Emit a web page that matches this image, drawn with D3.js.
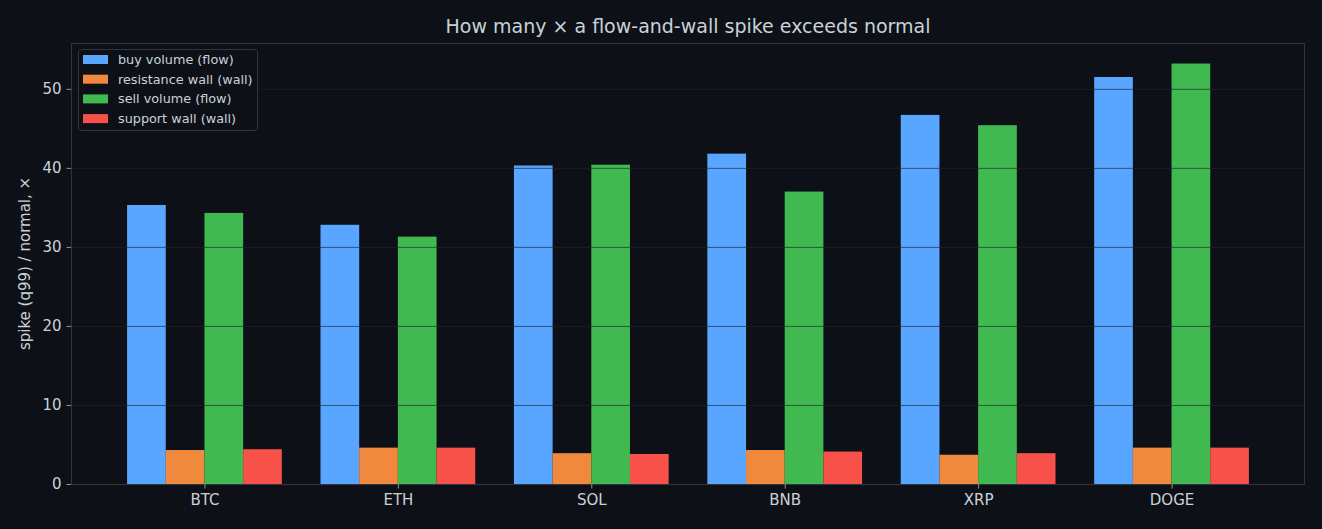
<!DOCTYPE html>
<html>
<head>
<meta charset="utf-8">
<script src="https://cdn.jsdelivr.net/npm/d3@7"></script>
<style>
    body { margin: 0; background: #0d1117; }
    svg { display: block; font-family: "DejaVu Sans", sans-serif; }
</style>
</head>
<body>
<div id="chart"></div>
<script>
const categories = ['BTC', 'ETH', 'SOL', 'BNB', 'XRP', 'DOGE'];
const seriesNames = ['buy volume (flow)', 'resistance wall (wall)', 'sell volume (flow)', 'support wall (wall)'];
const buyVolume = [35.3, 32.8, 40.3, 41.8, 46.7, 51.5];
const resistanceWall = [4.3, 4.6, 3.9, 4.3, 3.7, 4.6];
const sellVolume = [34.3, 31.3, 40.4, 37.0, 45.4, 53.2];
const supportWall = [4.4, 4.6, 3.8, 4.1, 3.9, 4.6];
const yTicks = [0, 10, 20, 30, 40, 50];

const colors = ['#58a6ff', '#f0883e', '#3fb950', '#f85149'];
const width = 1322, height = 529;
const margin = { top: 43, right: 17, bottom: 45, left: 71 };
const innerW = width - margin.left - margin.right;
const innerH = height - margin.top - margin.bottom;

const seriesValues = [buyVolume, resistanceWall, sellVolume, supportWall];

// bars at offsets -0.3..0.3 with width 0.2, matplotlib-style 5% padding
const xScale = d3.scaleLinear().domain([-0.69, categories.length - 1 + 0.69]).range([0, innerW]);
const yScale = d3.scaleLinear().domain([0, 55.8]).range([innerH, 0]);
const barW = xScale(0.2) - xScale(0);

const svg = d3.select('#chart').append('svg')
    .attr('width', width)
    .attr('height', height);

svg.append('rect').attr('width', width).attr('height', height).attr('fill', '#0d1117');

const g = svg.append('g').attr('transform', 'translate(' + margin.left + ',' + margin.top + ')');

// bars
seriesValues.forEach(function(vals, si) {
    g.append('g').selectAll('rect')
        .data(vals)
        .enter().append('rect')
        .attr('x', (d, i) => xScale(i - 0.4 + si * 0.2))
        .attr('y', d => yScale(d))
        .attr('width', barW)
        .attr('height', d => yScale(0) - yScale(d))
        .attr('fill', colors[si]);
});

// grid on top of bars
g.append('g').selectAll('line')
    .data(yTicks.filter(t => t > 0))
    .enter().append('line')
    .attr('x1', 0).attr('x2', innerW)
    .attr('y1', d => yScale(d) + 0.5).attr('y2', d => yScale(d) + 0.5)
    .attr('stroke', '#21262d')
    .attr('stroke-opacity', 0.65)
    .attr('stroke-width', 1);

// frame
g.append('rect')
    .attr('x', 0.5).attr('y', 0.5)
    .attr('width', innerW - 1).attr('height', innerH)
    .attr('fill', 'none')
    .attr('stroke', '#30363d')
    .attr('stroke-width', 1);

// y axis
const yAxis = g.append('g')
    .call(d3.axisLeft(yScale).tickValues(yTicks).tickSize(4.5).tickPadding(5));
yAxis.attr('font-size', 15).attr('font-family', '"DejaVu Sans", sans-serif');
yAxis.select('.domain').remove();
yAxis.selectAll('line').attr('stroke', '#8b949e');
yAxis.selectAll('text').attr('fill', '#c9d1d9');

// x axis
const xAxis = g.append('g')
    .attr('transform', 'translate(0,' + innerH + ')')
    .call(d3.axisBottom(xScale).tickValues(d3.range(categories.length)).tickFormat(i => categories[i]).tickSize(4.5).tickPadding(6));
xAxis.attr('font-size', 15).attr('font-family', '"DejaVu Sans", sans-serif');
xAxis.select('.domain').attr('stroke', '#30363d').attr('d', 'M0,0.5H' + innerW);
xAxis.selectAll('line').attr('stroke', '#8b949e');
xAxis.selectAll('text').attr('fill', '#c9d1d9');

// title
svg.append('text')
    .attr('x', margin.left + innerW / 2)
    .attr('y', 33)
    .attr('text-anchor', 'middle')
    .attr('fill', '#c9d1d9')
    .attr('font-size', 19)
    .text('How many \u00d7 a flow-and-wall spike exceeds normal');

// y label
svg.append('text')
    .attr('transform', 'translate(30,' + (margin.top + innerH / 2) + ') rotate(-90)')
    .attr('text-anchor', 'middle')
    .attr('fill', '#c9d1d9')
    .attr('font-size', 15)
    .text('spike (q99) / normal, \u00d7');

// legend
const legend = svg.append('g').attr('transform', 'translate(78,49)');
legend.append('rect')
    .attr('x', 0.5).attr('y', 0.5)
    .attr('width', 179).attr('height', 81)
    .attr('rx', 3)
    .attr('fill', '#0d1117')
    .attr('stroke', '#30363d');
seriesNames.forEach(function(name, i) {
    const row = legend.append('g').attr('transform', 'translate(0,' + (6 + i * 19.7) + ')');
    row.append('rect').attr('x', 5).attr('y', 0).attr('width', 25).attr('height', 9).attr('fill', colors[i]);
    row.append('text').attr('x', 40).attr('y', 9)
        .attr('fill', '#c9d1d9').attr('font-size', 12.8).text(name);
});
</script>
</body>
</html>
